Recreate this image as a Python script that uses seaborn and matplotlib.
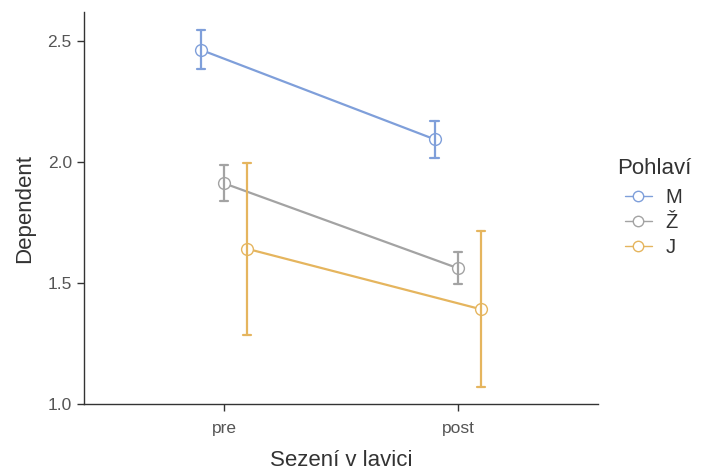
import numpy as np
import pandas as pd
import matplotlib
matplotlib.use("Agg")
import matplotlib.pyplot as plt
import seaborn as sns

# Session categories and groups
sessions = ["pre", "post"]
groups = ["M", "Ž", "J"]

# Group means with lower/upper interval limits per session
means = {
    "M": [2.465, 2.095],
    "Ž": [1.913, 1.562],
    "J": [1.642, 1.392],
}
lower = {
    "M": [2.384, 2.017],
    "Ž": [1.840, 1.496],
    "J": [1.288, 1.072],
}
upper = {
    "M": [2.545, 2.170],
    "Ž": [1.988, 1.630],
    "J": [1.996, 1.715],
}

palette = {"M": "#7F9FDA", "Ž": "#A3A3A3", "J": "#E5B55E"}

# Long table: lower limit, mean and upper limit per cell; the median gives
# the mean and the full-range interval gives the error bar.
rows = []
for g in groups:
    for i, s in enumerate(sessions):
        for v in (lower[g][i], means[g][i], upper[g][i]):
            rows.append({"Sezení v lavici": s, "Pohlaví": g, "Dependent": v})
df = pd.DataFrame(rows)

sns.set_style("ticks")
plt.rcParams["font.family"] = ["Liberation Sans", "DejaVu Sans"]

fig = plt.figure(figsize=(7.03, 4.70), dpi=100)
ax = fig.add_axes([0.119, 0.140, 0.732, 0.834])

sns.pointplot(
    data=df, x="Sezení v lavici", y="Dependent", hue="Pohlaví",
    order=sessions, hue_order=groups, palette=palette,
    estimator="median", errorbar=("pi", 100),
    dodge=0.2, capsize=0.035, err_kws={"linewidth": 1.6},
    markers="o", markersize=8.5, linewidth=1.6,
    markerfacecolor="white", markeredgewidth=1.0,
    ax=ax,
)

ax.set_xlim(-0.6, 1.6)
ax.set_ylim(1.0, 2.62)
ax.set_yticks([1.0, 1.5, 2.0, 2.5])
ax.set_yticklabels(["1.0", "1.5", "2.0", "2.5"])

for side in ("top", "right"):
    ax.spines[side].set_visible(False)
for side in ("left", "bottom"):
    ax.spines[side].set_color("#333333")
    ax.spines[side].set_linewidth(1.0)
ax.tick_params(axis="x", pad=7)
ax.tick_params(axis="both", colors="#333333", labelcolor="#555555",
               labelsize=12.5, length=5, width=1.0)
ax.set_xlabel("Sezení v lavici", fontsize=16, color="#333333", labelpad=10)
ax.set_ylabel("Dependent", fontsize=16, color="#333333", labelpad=9)

leg = ax.legend(
    title="Pohlaví", loc="upper left", bbox_to_anchor=(1.036, 0.627),
    frameon=False, fontsize=14.5, title_fontsize=16,
    borderaxespad=0, borderpad=0,
    handlelength=1.3, handletextpad=0.7, labelspacing=0.3,
)
leg._legend_box.align = "center"
leg._legend_box.sep = 6
for t in leg.get_texts():
    t.set_color("#333333")
leg.get_title().set_color("#333333")
for h in leg.legend_handles:
    h.set_linewidth(1.0)
    h.set_markersize(7.5)

fig.savefig("out.png", dpi=100)
